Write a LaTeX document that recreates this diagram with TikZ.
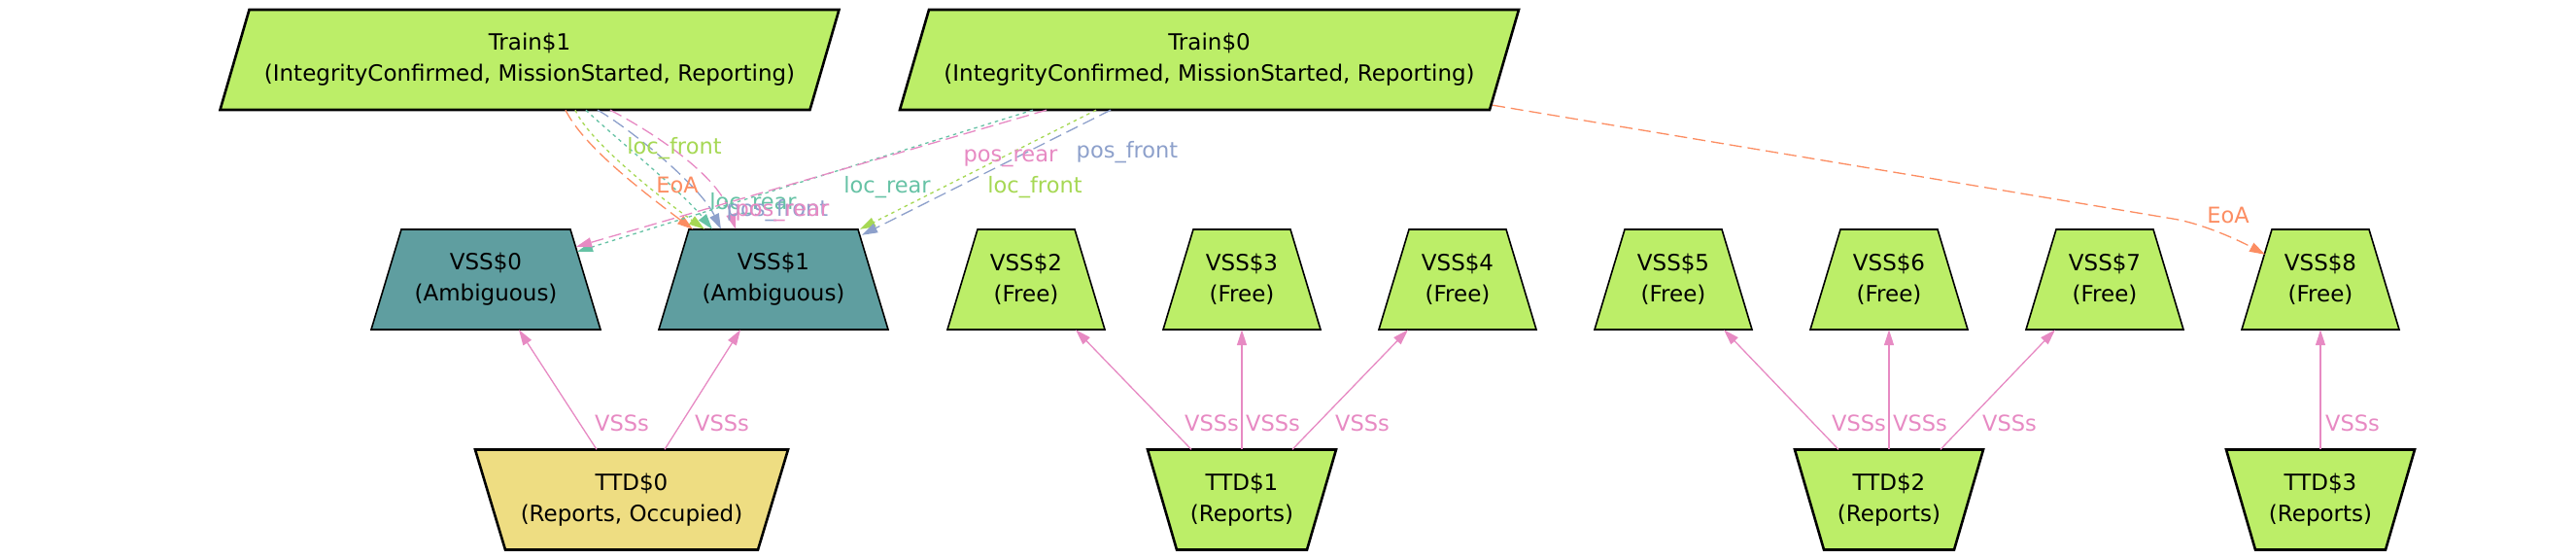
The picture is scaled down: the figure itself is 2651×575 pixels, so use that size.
\documentclass[tikz,border=0pt]{standalone}
\usepackage{fontspec}
\setmainfont{DejaVu Sans}
\usetikzlibrary{calc,arrows.meta}
\pgfdeclarelayer{bg}
\pgfsetlayers{bg,main}
\definecolor{nodegreen}{HTML}{BCEE68}
\definecolor{cadet}{HTML}{5F9EA0}
\definecolor{goldy}{HTML}{EEDD82}
\definecolor{cteal}{HTML}{66C2A5}
\definecolor{corange}{HTML}{FC8D62}
\definecolor{cblue}{HTML}{8DA0CB}
\definecolor{cpink}{HTML}{E78AC3}
\definecolor{cgreen}{HTML}{A6D854}
\newcommand\trapshape[4]{%
  \begin{pgfonlayer}{bg}
  \path[#4] ($(#1.center)+(-#2,-51.5)$) -- ($(#1.center)+(#2,-51.5)$) -- ($(#1.center)+(#3,51.5)$) -- ($(#1.center)+(-#3,51.5)$) -- cycle;
  \end{pgfonlayer}}
\newcommand\parashape[2]{%
  \begin{pgfonlayer}{bg}
  \path[#2] ($(#1.center)+(-288.5,-51.5)$) -- ($(#1.center)+(318.5,-51.5)$) -- ($(#1.center)+(288.5,51.5)$) -- ($(#1.center)+(-318.5,51.5)$) -- cycle;
  \end{pgfonlayer}}
\tikzset{
  nodetext/.style={inner sep=0pt, minimum height=103pt, align=center, font=\fontsize{23}{32}\selectfont, text=black},
  thinshape/.style={draw=black, line width=1.6pt, line join=miter},
  thickshape/.style={draw=black, line width=2.6pt, line join=miter},
  ed/.style={line width=1.3pt, -{Triangle[length=16pt,width=10pt]}},
  dsh/.style={dash pattern=on 13pt off 6pt},
  dtt/.style={dash pattern=on 3.5pt off 4pt},
  elab/.style={font=\fontsize{22.5}{27}\selectfont, inner sep=0pt, anchor=base},
  vlab/.style={font=\fontsize{22.5}{27}\selectfont, inner sep=0pt, anchor=base west, text=cpink},
}
\begin{document}
\begin{tikzpicture}[x=1pt,y=-1pt]
\useasboundingbox (0,0) rectangle (2651,575);
% trains
\node[nodetext, minimum width=637pt] (t1) at (545,61.5) {Train\$1\\(IntegrityConfirmed, MissionStarted, Reporting)};
\parashape{t1}{thickshape, fill=nodegreen}
\node[nodetext, minimum width=637pt] (t0) at (1244.5,61.5) {Train\$0\\(IntegrityConfirmed, MissionStarted, Reporting)};
\parashape{t0}{thickshape, fill=nodegreen}
% VSS
\node[nodetext, minimum width=236pt] (vss0) at (500,287.5) {VSS\$0\\(Ambiguous)};
\trapshape{vss0}{87}{118}{thinshape, fill=cadet}
\node[nodetext, minimum width=236pt] (vss1) at (796,287.5) {VSS\$1\\(Ambiguous)};
\trapshape{vss1}{87}{118}{thinshape, fill=cadet}
\node[nodetext, minimum width=162pt] (vss2) at (1056,287.5) {VSS\$2\\(Free)};
\trapshape{vss2}{50}{81}{thinshape, fill=nodegreen}
\node[nodetext, minimum width=162pt] (vss3) at (1278,287.5) {VSS\$3\\(Free)};
\trapshape{vss3}{50}{81}{thinshape, fill=nodegreen}
\node[nodetext, minimum width=162pt] (vss4) at (1500,287.5) {VSS\$4\\(Free)};
\trapshape{vss4}{50}{81}{thinshape, fill=nodegreen}
\node[nodetext, minimum width=162pt] (vss5) at (1722,287.5) {VSS\$5\\(Free)};
\trapshape{vss5}{50}{81}{thinshape, fill=nodegreen}
\node[nodetext, minimum width=162pt] (vss6) at (1944,287.5) {VSS\$6\\(Free)};
\trapshape{vss6}{50}{81}{thinshape, fill=nodegreen}
\node[nodetext, minimum width=162pt] (vss7) at (2166,287.5) {VSS\$7\\(Free)};
\trapshape{vss7}{50}{81}{thinshape, fill=nodegreen}
\node[nodetext, minimum width=162pt] (vss8) at (2388,287.5) {VSS\$8\\(Free)};
\trapshape{vss8}{50}{81}{thinshape, fill=nodegreen}
% TTD
\node[nodetext, minimum width=322pt] (ttd0) at (650,514) {TTD\$0\\(Reports, Occupied)};
\trapshape{ttd0}{161}{130}{thickshape, fill=goldy}
\node[nodetext, minimum width=194pt] (ttd1) at (1278,514) {TTD\$1\\(Reports)};
\trapshape{ttd1}{97}{67}{thickshape, fill=nodegreen}
\node[nodetext, minimum width=194pt] (ttd2) at (1944,514) {TTD\$2\\(Reports)};
\trapshape{ttd2}{97}{67}{thickshape, fill=nodegreen}
\node[nodetext, minimum width=194pt] (ttd3) at (2388,514) {TTD\$3\\(Reports)};
\trapshape{ttd3}{97}{67}{thickshape, fill=nodegreen}
% VSSs edges
\draw[ed, cpink] ($(ttd0.north)+(-36,0)$) -- ($(vss0.south)+(34,0)$);
\draw[ed, cpink] ($(ttd0.north)+(34,0)$) -- ($(vss1.south)+(-34,0)$);
\draw[ed, cpink] ($(ttd1.north)+(-52,0)$) -- ($(vss2.south)+(51,0)$);
\draw[ed, cpink] (ttd1.north) -- (vss3.south);
\draw[ed, cpink] ($(ttd1.north)+(52,0)$) -- ($(vss4.south)+(-51,0)$);
\draw[ed, cpink] ($(ttd2.north)+(-52,0)$) -- ($(vss5.south)+(52,0)$);
\draw[ed, cpink] (ttd2.north) -- (vss6.south);
\draw[ed, cpink] ($(ttd2.north)+(53,0)$) -- ($(vss7.south)+(-51,0)$);
\draw[ed, cpink] (ttd3.north) -- (vss8.south);
\node[vlab] (v0a) at (612,443) {VSSs};
\node[vlab] (v0b) at (715,443) {VSSs};
\node[vlab] (v1a) at (1219,443) {VSSs};
\node[vlab] (v1b) at (1282,443) {VSSs};
\node[vlab] (v1c) at (1374,443) {VSSs};
\node[vlab] (v2a) at (1885,443) {VSSs};
\node[vlab] (v2b) at (1948,443) {VSSs};
\node[vlab] (v2c) at (2040,443) {VSSs};
\node[vlab] (v3a) at (2393,443) {VSSs};
% Train$1 -> VSS$1
\draw[ed, corange, dsh] ($(t1.south)+(37,0)$) .. controls (600,150) and (660,196) .. ($(vss1.north)+(-83,0)$);
\draw[ed, cgreen, dtt] ($(t1.south)+(47,0)$) .. controls (606,145) and (675,200) .. ($(vss1.north)+(-71,0)$);
\draw[ed, cteal, dtt] ($(t1.south)+(58,0)$) .. controls (625,135) and (700,195) .. ($(vss1.north)+(-63,0)$);
\draw[ed, cblue, dsh] ($(t1.south)+(70,0)$) .. controls (645,130) and (720,190) .. ($(vss1.north)+(-54,0)$);
\draw[ed, cpink, dsh] ($(t1.south)+(83,0)$) .. controls (670,135) and (740,180) .. ($(vss1.north)+(-39,0)$);
\node[elab, cgreen] (l1a) at (694,159) {loc\_front};
\node[elab, corange] (l1b) at (697,198) {EoA};
\node[elab, cteal] (l1c) at (775,215) {loc\_rear};
\node[elab, cblue] (l1d) at (800,222) {pos\_front};
\node[elab, cpink] (l1e) at (805,222) {pos\_rear};
% Train$0 edges
\draw[ed, cteal, dtt] ($(t0.south)+(-181.5,0)$) -- ($(vss0.north)+(94,23)$);
\draw[ed, cpink, dsh] ($(t0.south)+(-167.5,0)$) -- ($(vss0.north)+(93,18)$);
\draw[ed, cgreen, dtt] ($(t0.south)+(-116.5,0)$) -- ($(vss1.north)+(89,0)$);
\draw[ed, cblue, dsh] ($(t0.south)+(-101.5,0)$) -- ($(vss1.north)+(91,6)$);
\draw[ed, corange, dsh] ($(t0.south)+(291.5,-5)$) -- (2236,225) .. controls (2262,229) and (2298,244) .. ($(vss8.north)+(-57,26)$);
\node[elab, cteal] (l0a) at (913,198) {loc\_rear};
\node[elab, cpink] (l0b) at (1040,167) {pos\_rear};
\node[elab, cgreen] (l0c) at (1065,198) {loc\_front};
\node[elab, cblue] (l0d) at (1160,163) {pos\_front};
\node[elab, corange] (l0e) at (2293,229) {EoA};
\end{tikzpicture}
\end{document}
